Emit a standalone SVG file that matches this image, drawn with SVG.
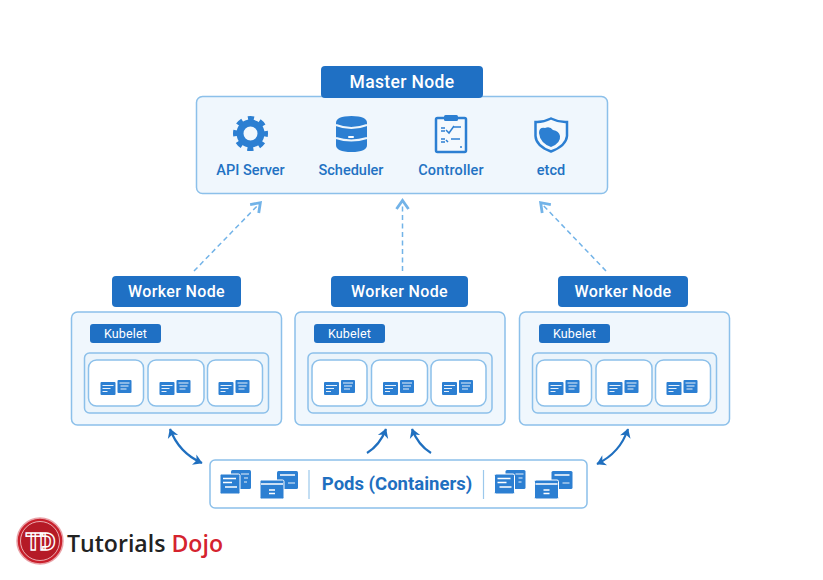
<svg xmlns="http://www.w3.org/2000/svg" xmlns:xlink="http://www.w3.org/1999/xlink" width="823" height="580" viewBox="0 0 823 580">
<style>
text{font-family:Roboto,"Liberation Sans",sans-serif;text-anchor:middle}
.panel{fill:#f0f7fd;stroke:#8cc0ea;stroke-width:1.5}
.inner{fill:#ebf4fb;stroke:#8cc0ea;stroke-width:1.5}
.box{fill:#fff;stroke:#8cc0ea;stroke-width:1.5}
.head{fill:#1f70c4}
.t{fill:#fff;font-size:16px;font-weight:500;letter-spacing:.35px}
.k{fill:#fff;font-size:12.5px;font-weight:400;letter-spacing:.15px}
.l{fill:#2272c3;font-size:14.5px;font-weight:500}
.d{fill:none;stroke:#72b3e8;stroke-width:1.5;stroke-dasharray:5 3.5}
.s{fill:none;stroke:#1f6fbf;stroke-width:2.2}
.ic{fill:#2c7fd2}
.w{stroke:#fff;fill:none;stroke-width:.9}
.wl{stroke:#fff;fill:none;stroke-width:1.5}
</style>
<defs>
<marker id="ad" markerWidth="16" markerHeight="16" refX="10" refY="8" orient="auto-start-reverse" markerUnits="userSpaceOnUse"><path d="M2 2 L10.500 8 L2 14" fill="none" stroke="#72b3e8" stroke-width="2.800"/></marker>
<marker id="as" markerWidth="14" markerHeight="14" refX="10" refY="7" orient="auto-start-reverse" markerUnits="userSpaceOnUse"><path d="M1.500 1.500 L10.500 7 L1.500 12.500 L4 7Z" fill="#1f6fbf"/></marker>
<g id="miniF"><rect width="15" height="13" rx="1" class="ic"/><path class="w" d="M2 3.500H13M2 6.500H10M2 9.500H7"/></g>
<g id="miniB"><rect width="14" height="13" rx="1" class="ic"/><path class="w" d="M2 3H12M3 6H11M3 9H9"/></g>
<g id="pods"><rect x="11" y="0" width="20" height="19" rx="1.500" class="ic"/><path class="w" d="M21 4H29M24 8H28M24 12H27"/><rect x="0" y="4" width="20" height="20" rx="1.500" class="ic" stroke="#fff" stroke-width="1"/><path class="wl" d="M3 8.500H16M3 12.500H12M5 17H17"/><rect x="57" y="1" width="21" height="18" rx="1.500" class="ic"/><path class="wl" d="M60 5H75"/><path class="w" d="M68 13H75"/><rect x="40" y="10" width="24" height="19" rx="1.500" class="ic" stroke="#fff" stroke-width="1"/><path class="wl" d="M41 14H63M49 20H55M49 23.500H55"/></g>
<g id="worker"><rect x="0" y="0" width="210" height="113" rx="6" class="panel"/><rect x="13" y="41" width="184" height="60" rx="5" class="inner"/><rect x="17" y="48" width="55" height="46" rx="8" class="box"/><rect x="76.500" y="48" width="56" height="46" rx="8" class="box"/><rect x="136" y="48" width="55" height="46" rx="8" class="box"/><use xlink:href="#miniF" href="#miniF" x="29" y="70"/><use xlink:href="#miniB" href="#miniB" x="46" y="68"/><use xlink:href="#miniF" href="#miniF" x="88" y="70"/><use xlink:href="#miniB" href="#miniB" x="105" y="68"/><use xlink:href="#miniF" href="#miniF" x="147" y="70"/><use xlink:href="#miniB" href="#miniB" x="164" y="68"/></g>
</defs>
<rect width="823" height="580" fill="#fff"/>

<g id="connectors">
<path class="d" d="M194 271L260 203" marker-end="url(#ad)"/>
<path class="d" d="M402.500 271V201" marker-end="url(#ad)"/>
<path class="d" d="M606 271L541 203" marker-end="url(#ad)"/>
<path class="s" d="M170 429Q179 453 202 463" marker-start="url(#as)" marker-end="url(#as)"/>
<path class="s" d="M367 453Q380 445 386 429" marker-end="url(#as)"/>
<path class="s" d="M431 453Q418 445 412 429" marker-end="url(#as)"/>
<path class="s" d="M628 429Q620 453 597 464" marker-start="url(#as)" marker-end="url(#as)"/>
</g>

<g id="master">
<rect x="196.500" y="96.500" width="411" height="97" rx="6" class="panel"/>
<rect x="321" y="66" width="162" height="32" rx="4" class="head"/>
<text x="402" y="87.500" class="t" style="font-size:17.500px">Master Node</text>
</g>
<g id="api-server">
<circle cx="250.500" cy="133.500" r="10.500" fill="none" stroke="#2c7fd2" stroke-width="7"/>
<circle cx="250.500" cy="133.500" r="15" fill="none" stroke="#2c7fd2" stroke-width="5" stroke-dasharray="6 5.780" stroke-dashoffset="3"/>
<text x="250.500" y="174.500" class="l">API Server</text>
</g>
<g id="scheduler">
<path class="ic" d="M336 123Q336 116 351.500 116Q367 116 367 123V145Q367 152 351.500 152Q336 152 336 145Z"/>
<path d="M336 125Q351 131 367 125M336 138Q351 143 367 138" fill="none" stroke="#eef6fc" stroke-width="2"/>
<rect x="348" y="136" width="6" height="2" rx="1" fill="#fff"/>
<text x="351" y="174.500" class="l">Scheduler</text>
</g>
<g id="controller">
<rect x="436" y="118" width="30" height="34" rx="1.500" fill="#f4f9fd" stroke="#2c7fd2" stroke-width="2.500"/>
<rect x="444" y="115" width="14" height="6" rx="1.500" class="ic"/>
<path d="M441 128H445M441 131H445M446 130L449 133L454 126M454 127H461M441 139H445M441 142H445M446 140L448 142M451 139H460" fill="none" stroke="#2c7fd2" stroke-width="1.500"/>
<circle cx="461" cy="147" r="1" class="ic"/>
<text x="451" y="174.500" class="l" style="letter-spacing:.15px">Controller</text>
</g>
<g id="etcd">
<path d="M551 118.500Q543 122.500 535.500 122V136Q536 146 551 151.500Q566 146 567 136V122Q559 122.500 551 118.500Z" fill="#f4f9fd" stroke="#2c7fd2" stroke-width="2.500"/>
<path class="ic" d="M539 133Q539 127 545 128Q550 126 553 130Q559 131 560 136Q561 143 551 147Q540 143 539 133Z"/>
<text x="551" y="174.500" class="l">etcd</text>
</g>

<g id="worker-1">
<use xlink:href="#worker" href="#worker" x="71.500" y="312"/>
<rect x="112" y="276" width="129" height="31" rx="4" class="head"/>
<text x="176.500" y="297" class="t">Worker Node</text>
<rect x="90" y="324" width="71" height="19" rx="3" class="head"/>
<text x="125.500" y="338" class="k">Kubelet</text>
</g>
<g id="worker-2">
<use xlink:href="#worker" href="#worker" x="295" y="312"/>
<rect x="331" y="276" width="137" height="31" rx="4" class="head"/>
<text x="399.500" y="297" class="t">Worker Node</text>
<rect x="314" y="324" width="71" height="19" rx="3" class="head"/>
<text x="349.500" y="338" class="k">Kubelet</text>
</g>
<g id="worker-3">
<use xlink:href="#worker" href="#worker" x="519.500" y="312"/>
<rect x="558" y="276" width="130" height="31" rx="4" class="head"/>
<text x="623" y="297" class="t">Worker Node</text>
<rect x="539" y="324" width="71" height="19" rx="3" class="head"/>
<text x="574.500" y="338" class="k">Kubelet</text>
</g>

<g id="pods-panel">
<rect x="210" y="460" width="377" height="48" rx="5" fill="#fff" stroke="#8cc0ea" stroke-width="1.500"/>
<use xlink:href="#pods" href="#pods" x="220" y="470"/>
<use xlink:href="#pods" href="#pods" x="494.500" y="470"/>
<path d="M309 470V499M483.500 470V499" stroke="#9cc8ec" stroke-width="1.200"/>
<text x="397" y="490" style="font-size:18.500px;font-weight:700" fill="#1f6fc0">Pods (Containers)</text>
</g>

<g id="logo">
<circle cx="40" cy="541" r="23" fill="#c9202c" stroke="#e9a2a8" stroke-width="1.500"/>
<circle cx="40" cy="541" r="19.500" fill="#b51a26" stroke="#f4d0d3" stroke-width=".8"/>
<text x="40" y="550" style="font-size:24px;font-weight:900;letter-spacing:-1px" fill="#b51a26" stroke="#fff" stroke-width="1.400">TD</text>
<text x="67" y="552" style="font-size:24px;font-weight:600;text-anchor:start;font-family:'Open Sans',sans-serif" fill="#222" textLength="156" lengthAdjust="spacingAndGlyphs"><tspan>Tutorials </tspan><tspan fill="#d5232e">Dojo</tspan></text>
</g>
</svg>
